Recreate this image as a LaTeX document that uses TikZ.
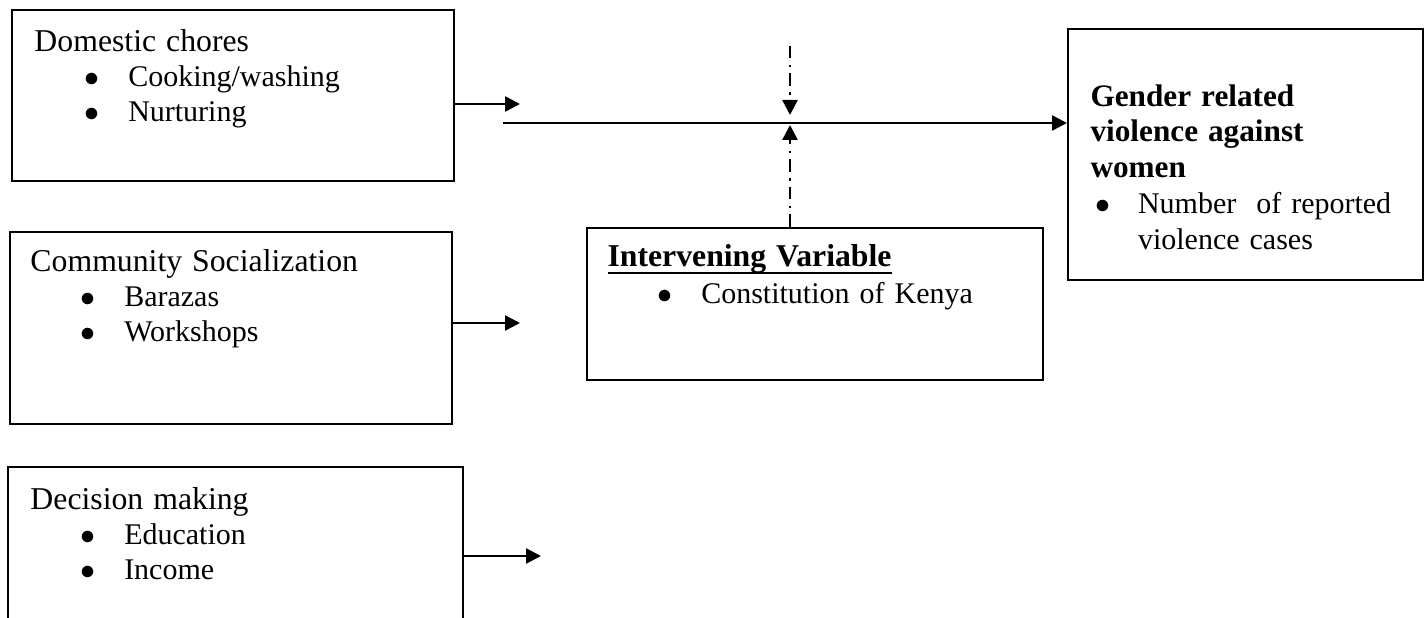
\documentclass[tikz,border=0pt]{standalone}
\usepackage{fontspec}
\setmainfont{Liberation Serif}
\usetikzlibrary{arrows.meta}
\newcommand{\bul}[1]{\hspace*{20pt}\makebox[17.5pt][l]{$\bullet$}#1}
\newcommand{\hd}{\fontsize{12.7}{14}\selectfont}
\newcommand{\bhd}{\bfseries\fontsize{12.5}{14}\selectfont}
\newcommand{\uln}[1]{\setbox0\hbox{#1}\rlap{\vrule width\wd0 height -2pt depth 3pt}\box0}

\tikzset{
  box/.style={draw, line width=0.8pt, inner sep=0pt},
  txt/.style={anchor=base west, align=left, text width=220pt, inner sep=0pt,
    font=\fontsize{12}{14}\selectfont},
  arr/.style={line width=1pt, -{Triangle[length=6pt,width=6pt]}},
  modarr/.style={arr, dash pattern=on 5pt off 2.5pt on 1pt off 2.5pt},
}

\begin{document}
\begin{tikzpicture}[x=0.4pt,y=-0.4pt]
  \clip (0,0) rectangle (1426,618);
  % independent variables
  \node[box, minimum width=176.8pt, minimum height=68.4pt] (chores) at (233,95.5) {};
  \node[box, minimum width=176.8pt, minimum height=76.8pt] (social) at (231,328) {};
  \node[box, minimum width=182pt, minimum height=80pt] (decide) at (235.5,567) {};
  \node[txt] (chorestxt) at (34,52) {{\hd Domestic chores}\\ \bul{Cooking/washing}\\ \bul{Nurturing}};
  \node[txt] (socialtxt) at (30,272) {{\hd Community Socialization}\\ \bul{Barazas}\\ \bul{Workshops}};
  \node[txt] (decidetxt) at (30,510) {{\hd Decision making}\\ \bul{Education}\\ \bul{Income}};
  % intervening variable
  \node[box, minimum width=182.4pt, minimum height=60.8pt] (interv) at (815,304) {};
  \node[txt] (intervtxt) at (607,267) {{\bfseries\hd\uln{Intervening Variable}}\\[0.8pt] \bul{Constitution of Kenya}};
  % dependent variable
  \node[box, minimum width=142pt, minimum height=100.4pt] (outcome) at (1245.5,154.5) {};
  \node[txt, font=\fontsize{12}{14.4}\selectfont] (outtxt) at (1090,107)
    {{\bhd Gender related\\ violence against\\ women}\\
     \makebox[19pt][l]{\hspace{2pt}$\bullet$}Number~ of reported\\ \hspace*{19pt}violence cases};
  % arrows
  \coordinate (c1) at (520,104);
  \coordinate (c2) at (520,323);
  \coordinate (c3) at (541,556);
  \coordinate (mainstart) at (503,123);
  \coordinate (modtop) at (790,46);
  \coordinate (modhit) at (790,123);
  \draw[arr] (chores.east |- c1) -- (c1);
  \draw[arr] (social.east |- c2) -- (c2);
  \draw[arr] (decide.east |- c3) -- (c3);
  \draw[arr] (mainstart) -- (mainstart -| outcome.west);
  \draw[modarr] (modtop) -- ([yshift=3.2pt]modhit);
  \draw[modarr] (interv.north -| modhit) -- ([yshift=-0.8pt]modhit);
\end{tikzpicture}
\end{document}
